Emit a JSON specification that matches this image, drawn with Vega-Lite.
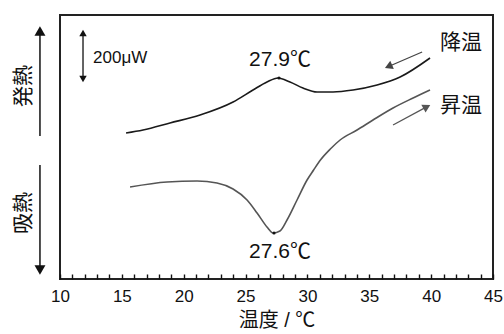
{
  "$schema": "https://vega.github.io/schema/vega-lite/v6.json",
  "width": 433,
  "height": 264,
  "autosize": "none",
  "padding": {"left": 60, "top": 15, "right": 11, "bottom": 55},
  "config": {
    "view": {"stroke": "#222", "strokeWidth": 2},
    "font": "Liberation Sans, Noto Sans CJK JP",
    "text": {"font": "Liberation Sans, Noto Sans CJK JP", "color": "#111"}
  },
  "datasets": {
    "cool": [
      {"T": 15.34, "v": 146}, {"T": 16.71, "v": 149}, {"T": 18.89, "v": 156},
      {"T": 21.32, "v": 164}, {"T": 23.99, "v": 177}, {"T": 25.6, "v": 189},
      {"T": 26.73, "v": 197}, {"T": 27.62, "v": 201}, {"T": 28.59, "v": 197},
      {"T": 29.64, "v": 191}, {"T": 30.78, "v": 187}, {"T": 32.07, "v": 187},
      {"T": 33.69, "v": 189}, {"T": 35.63, "v": 194}, {"T": 37.49, "v": 202},
      {"T": 39.91, "v": 221}
    ],
    "heat": [
      {"T": 15.66, "v": 92}, {"T": 18.65, "v": 97}, {"T": 21.08, "v": 98},
      {"T": 22.69, "v": 96}, {"T": 23.99, "v": 90}, {"T": 25.12, "v": 79},
      {"T": 25.93, "v": 66}, {"T": 26.73, "v": 52}, {"T": 27.22, "v": 46},
      {"T": 27.78, "v": 48}, {"T": 28.35, "v": 59}, {"T": 29.16, "v": 79},
      {"T": 29.97, "v": 99}, {"T": 30.5, "v": 109}, {"T": 31.05, "v": 119},
      {"T": 31.85, "v": 130}, {"T": 32.64, "v": 139},
      {"T": 34.01, "v": 149}, {"T": 35.3, "v": 159}, {"T": 36.92, "v": 171},
      {"T": 38.54, "v": 181}, {"T": 39.91, "v": 189}
    ],
    "peaks": [{"T": 27.7, "v": 201}, {"T": 27.3, "v": 46}],
    "peakLabels": [
      {"T": 27.78, "v": 219, "label": "27.9℃"},
      {"T": 27.78, "v": 27, "label": "27.6℃"}
    ],
    "modeLabels": [
      {"T": 40.72, "v": 236, "label": "降温"},
      {"T": 40.72, "v": 173, "label": "昇温"}
    ],
    "sideLabels": [
      {"T": 7.09, "v": 193, "label": "発熱"},
      {"T": 7.09, "v": 66, "label": "吸熱"}
    ],
    "scaleLabel": [{"T": 12.67, "v": 221, "label": "200μW"}],
    "bigShafts": [
      {"T": 8.38, "v": 248, "v2": 143},
      {"T": 8.38, "v": 114, "v2": 9}
    ],
    "smallShaft": [{"T": 11.86, "v": 246, "v2": 200}],
    "bigUp": [{"T": 8.38, "v": 248}],
    "bigDown": [{"T": 8.38, "v": 9}],
    "smallUp": [{"T": 11.86, "v": 246}],
    "smallDown": [{"T": 11.86, "v": 200}],
    "coolShaft": [{"T": 39.27, "v": 227, "T2": 36.65, "v2": 213}],
    "coolHead": [{"T": 36.65, "v": 213}],
    "heatShaft": [{"T": 36.92, "v": 154, "T2": 39.56, "v2": 171.6}],
    "heatHead": [{"T": 39.56, "v": 171.6}]
  },
  "encoding": {
    "x": {
      "field": "T", "type": "quantitative",
      "scale": {"domain": [10, 45], "nice": false, "zero": false},
      "axis": {
        "values": [10,11,12,13,14,15,16,17,18,19,20,21,22,23,24,25,26,27,28,29,30,31,32,33,34,35,36,37,38,39,40,41,42,43,44,45],
        "labelExpr": "datum.value % 5 === 0 ? datum.label : ''",
        "labelOverlap": false, "labelFlush": false, "labelBound": false,
        "offset": -5, "ticks": true, "tickSize": 5, "tickColor": "#111", "tickWidth": 1.4, "tickOpacity": 1,
        "domain": false, "grid": false, "zindex": 1,
        "labelFontSize": 17, "labelColor": "#111", "labelPadding": 9,
        "labelFont": "Liberation Sans",
        "title": "温度 / ℃", "titleFontSize": 20, "titleFontWeight": "normal",
        "titleColor": "#111", "titlePadding": 6,
        "titleFont": "Liberation Sans, Noto Sans CJK JP"
      }
    },
    "y": {
      "field": "v", "type": "quantitative",
      "scale": {"domain": [0, 264], "nice": false, "zero": false},
      "axis": null
    }
  },
  "layer": [
    {"data": {"name": "cool"}, "mark": {"type": "line", "interpolate": "monotone", "color": "#1a1a1a", "strokeWidth": 1.6}},
    {"data": {"name": "heat"}, "mark": {"type": "line", "interpolate": "monotone", "color": "#555", "strokeWidth": 1.6}},
    {"data": {"name": "peaks"}, "mark": {"type": "point", "filled": true, "size": 10, "color": "#111", "opacity": 1}},
    {"data": {"name": "peakLabels"}, "mark": {"type": "text", "fontSize": 21, "align": "center", "baseline": "middle"}, "encoding": {"text": {"field": "label"}}},
    {"data": {"name": "modeLabels"}, "mark": {"type": "text", "fontSize": 21, "align": "left", "baseline": "middle"}, "encoding": {"text": {"field": "label"}}},
    {"data": {"name": "sideLabels"}, "mark": {"type": "text", "fontSize": 21, "align": "center", "baseline": "middle", "angle": 270}, "encoding": {"text": {"field": "label"}}},
    {"data": {"name": "scaleLabel"}, "mark": {"type": "text", "fontSize": 17, "align": "left", "baseline": "middle"}, "encoding": {"text": {"field": "label"}}},
    {"data": {"name": "bigShafts"}, "mark": {"type": "rule", "color": "#111", "strokeWidth": 1.5}, "encoding": {"y2": {"field": "v2"}}},
    {"data": {"name": "smallShaft"}, "mark": {"type": "rule", "color": "#111", "strokeWidth": 1.3}, "encoding": {"y2": {"field": "v2"}}},
    {"data": {"name": "bigUp"}, "mark": {"type": "point", "shape": "triangle-up", "filled": true, "size": 120, "color": "#111", "opacity": 1}},
    {"data": {"name": "bigDown"}, "mark": {"type": "point", "shape": "triangle-down", "filled": true, "size": 120, "color": "#111", "opacity": 1}},
    {"data": {"name": "smallUp"}, "mark": {"type": "point", "shape": "triangle-up", "filled": true, "size": 55, "color": "#111", "opacity": 1}},
    {"data": {"name": "smallDown"}, "mark": {"type": "point", "shape": "triangle-down", "filled": true, "size": 55, "color": "#111", "opacity": 1}},
    {"data": {"name": "coolShaft"}, "mark": {"type": "rule", "color": "#444", "strokeWidth": 1.3}, "encoding": {"x2": {"field": "T2"}, "y2": {"field": "v2"}}},
    {"data": {"name": "coolHead"}, "mark": {"type": "point", "shape": "triangle", "angle": 246.6, "filled": true, "size": 80, "color": "#444", "opacity": 1}},
    {"data": {"name": "heatShaft"}, "mark": {"type": "rule", "color": "#555", "strokeWidth": 1.3}, "encoding": {"x2": {"field": "T2"}, "y2": {"field": "v2"}}},
    {"data": {"name": "heatHead"}, "mark": {"type": "point", "shape": "triangle", "angle": 61.6, "filled": true, "size": 80, "color": "#555", "opacity": 1}}
  ]
}
